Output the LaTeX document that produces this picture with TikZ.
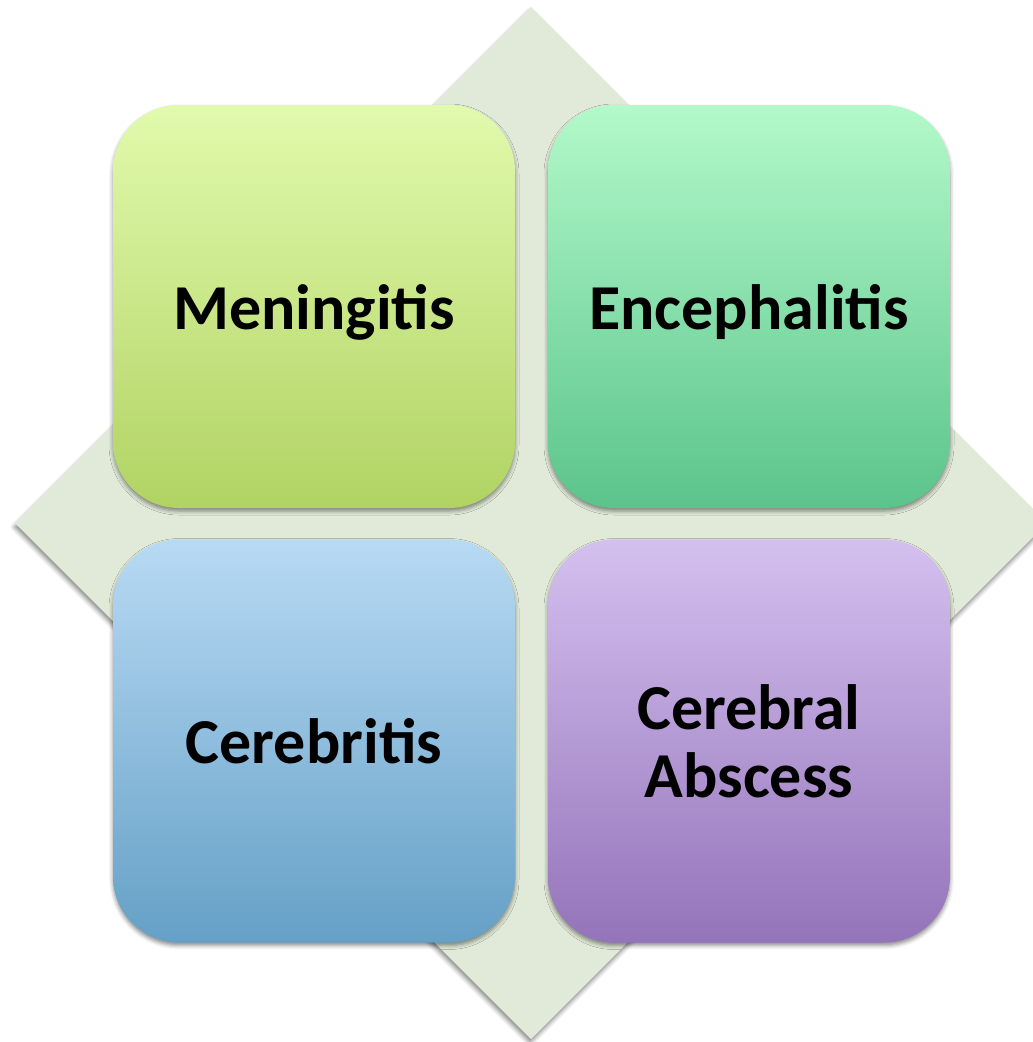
\documentclass[tikz,border=0pt]{standalone}
\usepackage{fontspec}
\setmainfont{Carlito}
\usetikzlibrary{shadows.blur}
\definecolor{diafill}{HTML}{E1EAD9}
\definecolor{menT}{HTML}{E1FAAD}\definecolor{menB}{HTML}{B1D363}
\definecolor{encT}{HTML}{B3F9CA}\definecolor{encB}{HTML}{5BC48B}
\definecolor{cerT}{HTML}{B8DAF4}\definecolor{cerB}{HTML}{65A0C6}
\definecolor{absT}{HTML}{D4C0EF}\definecolor{absB}{HTML}{9474BA}
\tikzset{
  tile/.style={rounded corners=66pt, minimum width=402pt, minimum height=403pt,
    inner sep=0pt, align=center, text=black, text depth=0pt,
    font=\bfseries\fontsize{64}{68}\selectfont,
    blur shadow={shadow xshift=0pt, shadow yshift=-3pt, shadow blur radius=4pt, shadow opacity=45}},
  diamondbg/.style={fill=diafill,
    blur shadow={shadow xshift=-1pt, shadow yshift=-4pt, shadow blur radius=4pt, shadow opacity=45}}
}
\begin{document}
\begin{tikzpicture}[x=1pt,y=-1pt]
\useasboundingbox (0,0) rectangle (1033,1042);
\begin{scope}
\clip (0,0) rectangle (1033,1042);
\fill[diamondbg] (531,7) -- (1047,523) -- (531,1039) -- (15,523) -- cycle;
\end{scope}
\node[tile, top color=menT, bottom color=menB] (men) at (314,306.5) {Meningitis};
\node[tile, top color=encT, bottom color=encB] (enc) at (749,306.5) {Encephalitis};
\node[tile, top color=cerT, bottom color=cerB] (cer) at (314,741) {Cerebritis};
\node[tile, top color=absT, bottom color=absB] (abs) at (749,741) {Cerebral\\Abscess};
\end{tikzpicture}
\end{document}
